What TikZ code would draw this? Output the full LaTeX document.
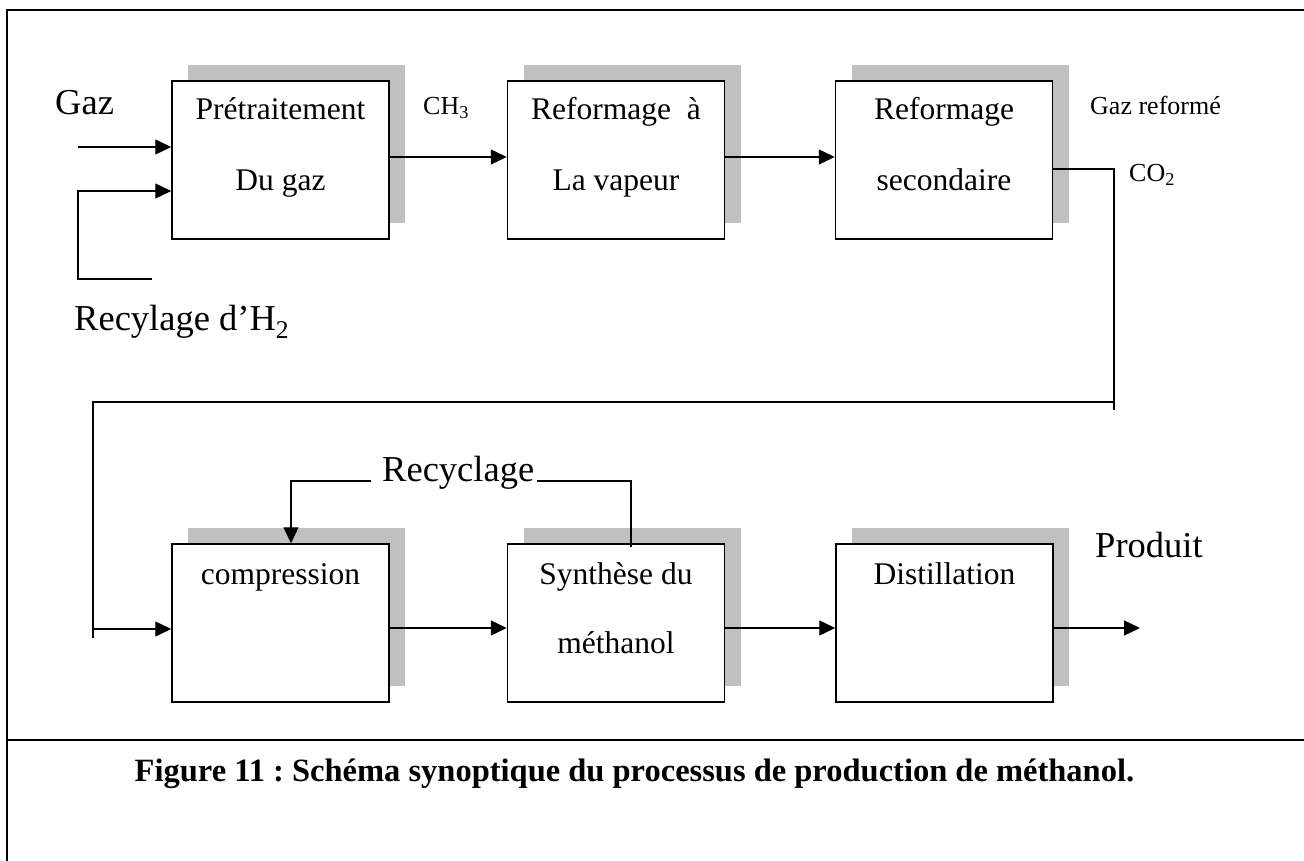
\documentclass[tikz,border=0pt]{standalone}
\usepackage{fontspec}
\setmainfont{Liberation Serif}
\usetikzlibrary{arrows.meta,shadows}
\definecolor{shgray}{HTML}{C0C0C0}
\newcommand{\fsz}[1]{\fontsize{#1}{#1}\selectfont}
\frenchspacing
\begin{document}
\begin{tikzpicture}[x=1pt,y=-1pt,
  box/.style={draw, line width=1.5pt, fill=white, minimum width=217pt,
    minimum height=158pt, inner sep=0pt,
    general shadow={fill=shgray, shadow xshift=16pt, shadow yshift=16pt}},
  boxtxt/.style={inner sep=0pt, anchor=base, font=\fsz{31.5}},
  biglbl/.style={inner sep=0pt, anchor=base west, font=\fsz{36.5}},
  smalllbl/.style={inner sep=0pt, anchor=base west, font=\fsz{26}},
  ln/.style={line width=1.3pt},
  arr/.style={line width=1.3pt, -{Triangle[length=16pt,width=15pt]}},
  frame/.style={line width=2pt}]
\useasboundingbox (0,0) rectangle (1304,861);

% outer frame and caption separator
\draw[frame] (7,861) -- (7,10) -- (1304,10);
\draw[frame] (7,740) -- (1304,740);

% process blocks
\node[box] (b1) at (280.5,160) {};
\node[box] (b2) at (616,160) {};
\node[box] (b3) at (944,160) {};
\node[box] (b4) at (280.5,623) {};
\node[box] (b5) at (616,623) {};
\node[box] (b6) at (944.5,623) {};

% block texts
\node[boxtxt] (b1a) at ([yshift=-39pt]b1.north) {Prétraitement};
\node[boxtxt] (b1b) at ([yshift=-110pt]b1.north) {Du gaz};
\node[boxtxt] (b2a) at ([yshift=-39pt]b2.north) {Reformage\ \ à};
\node[boxtxt] (b2b) at ([yshift=-110pt]b2.north) {La vapeur};
\node[boxtxt] (b3a) at ([yshift=-39pt]b3.north) {Reformage};
\node[boxtxt] (b3b) at ([yshift=-110pt]b3.north) {secondaire};
\node[boxtxt] (b4a) at ([yshift=-41pt]b4.north) {compression};
\node[boxtxt] (b5a) at ([yshift=-41pt]b5.north) {Synthèse du};
\node[boxtxt] (b5b) at ([yshift=-110pt]b5.north) {méthanol};
\node[boxtxt] (b6a) at ([yshift=-41pt]b6.north) {Distillation};

% stream labels
\node[biglbl] (lgaz) at (55,115) {Gaz};
\node[biglbl] (lh2) at (74,330) {Recylage d’H\textsubscript{2}};
\node[smalllbl] (lch3) at (423,115) {CH\textsubscript{3}};
\node[smalllbl] (lgr) at (1090,115) {Gaz reformé};
\node[smalllbl] (lco2) at (1129,182) {CO\textsubscript{2}};
\node[biglbl] (lrec) at (382,481) {Recyclage};
\node[biglbl] (lprod) at (1095,557) {Produit};

% feed streams
\coordinate (gin) at (78,147);
\draw[arr] (gin) -- (gin -| b1.west);
\coordinate (h2a) at (152,279);
\coordinate (h2b) at (78,279);
\coordinate (h2c) at (78,191);
\draw[arr] (h2a) -- (h2b) -- (h2c) -- (h2c -| b1.west);

% upper line
\draw[arr] ([yshift=3pt]b1.east) -- ([yshift=3pt]b2.west);
\draw[arr] ([yshift=3pt]b2.east) -- ([yshift=3pt]b3.west);

% transfer to the lower line
\coordinate (r1) at (1114,169);
\coordinate (r2) at (1114,410);
\coordinate (r3) at (1114,402);
\coordinate (r4) at (93,402);
\coordinate (r5) at (93,638);
\coordinate (r6) at (93,629);
\draw[ln] ([yshift=-9pt]b3.east) -- (r1) -- (r2);
\draw[ln] (r3) -- (r4) -- (r5);
\draw[arr] (r6) -- (r6 -| b4.west);

% lower line
\draw[arr] ([yshift=-5pt]b4.east) -- ([yshift=-5pt]b5.west);
\draw[arr] ([yshift=-5pt]b5.east) -- ([yshift=-5pt]b6.west);
\coordinate (pout) at (1140,628);
\draw[arr] ([yshift=-5pt]b6.east) -- (pout);

% recycle loop
\coordinate (c1) at (631,547);
\coordinate (c2) at (631,481);
\coordinate (c3) at (537,481);
\coordinate (c4) at (371,481);
\coordinate (c5) at (291,481);
\draw[ln] (c1) -- (c2) -- (c3);
\draw[arr] (c4) -- (c5) -- (c5 |- b4.north);

% caption
\node[inner sep=0pt, anchor=base, font=\fsz{32.5}\bfseries] (cap) at (634.5,781)
  {Figure 11 : Schéma synoptique du processus de production de méthanol.};
\end{tikzpicture}
\end{document}
